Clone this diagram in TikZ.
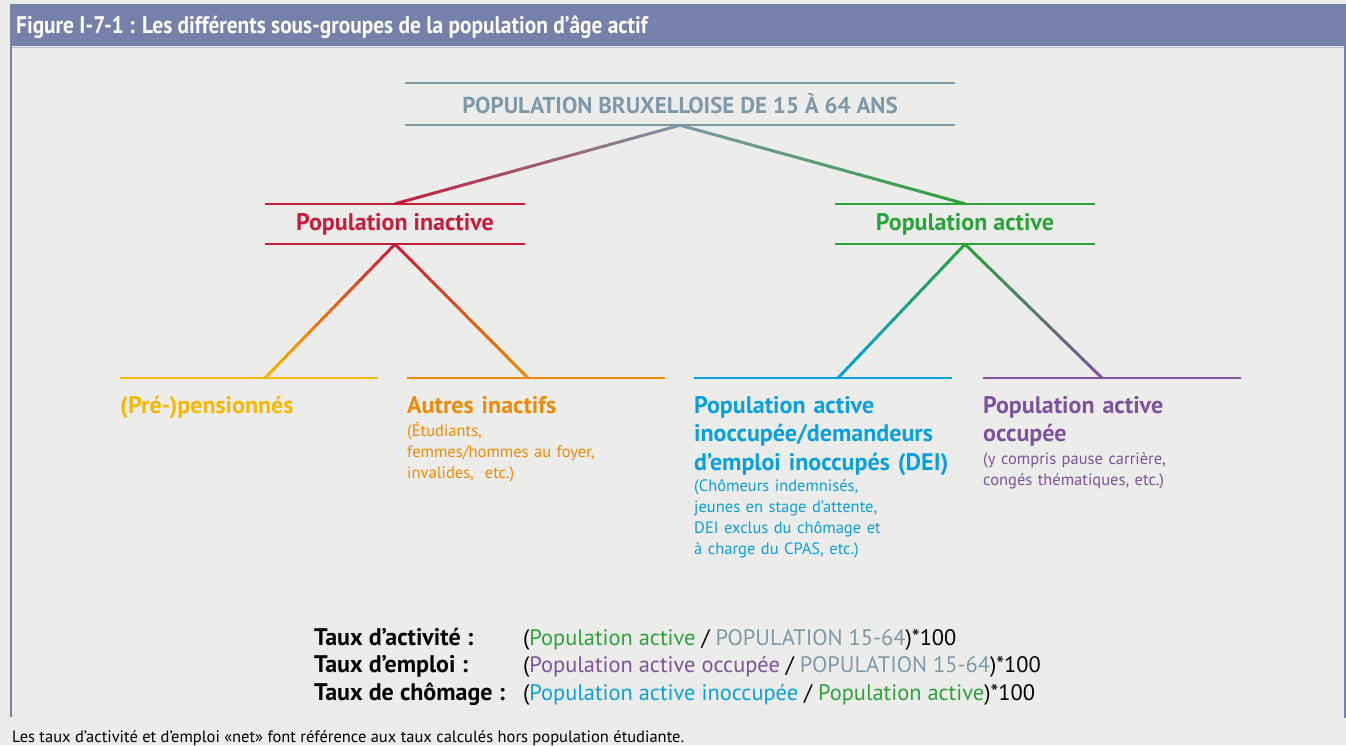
\documentclass[tikz,border=0pt]{standalone}
\usepackage{fontspec}
\setmainfont{PT Sans}
\newfontfamily\narrowfont[FakeStretch=0.89]{PT Sans}
\usepackage{xcolor}
\usetikzlibrary{calc,positioning}

\definecolor{bandblue}{HTML}{7681AB}
\definecolor{paper}{HTML}{ECEDEB}
\definecolor{popgray}{HTML}{7F99A9}
\definecolor{inactred}{HTML}{C51D3B}
\definecolor{actgreen}{HTML}{2CA23A}
\definecolor{pensyellow}{HTML}{F9B800}
\definecolor{autreorange}{HTML}{EE8A06}
\definecolor{inoccblue}{HTML}{0AA0DF}
\definecolor{occpurple}{HTML}{7D539D}

% line from #1 to #2, colour going from #3 to #4
\newcommand{\gradlink}[4]{%
  \foreach \i in {0,...,29}{%
    \pgfmathtruncatemacro{\nexti}{\i+1}%
    \pgfmathtruncatemacro{\mixp}{100-(\i+0.5)*100/30}%
    \draw[line width=3pt, line cap=round, color=#3!\mixp!#4] ($(#1)!\i/30!(#2)$) -- ($(#1)!\nexti/30!(#2)$);
  }}

\tikzset{
  toptitle/.style={font=\fontsize{23}{27}\selectfont\bfseries, text=popgray, inner sep=0pt},
  grouptitle/.style={font=\fontsize{24}{28}\selectfont\bfseries, inner sep=0pt},
  leafhead/.style={font=\fontsize{24}{28.5}\selectfont\bfseries, inner sep=0pt, anchor=base west, align=left, text width=280pt},
  leafnote/.style={font=\fontsize{16.5}{21}\selectfont, inner sep=0pt, anchor=base west, align=left, text width=280pt},
  leafline/.style={line width=2pt},
  tauxlabel/.style={font=\fontsize{24}{27}\selectfont\bfseries, inner sep=0pt, anchor=base west},
  tauxvalue/.style={font=\fontsize{22.4}{27}\selectfont, inner sep=0pt, anchor=base west},
}

\begin{document}
\begin{tikzpicture}[x=1pt, y=-1pt]
\useasboundingbox (0,0) rectangle (1346,745);
\fill[paper] (0,0) rectangle (1346,745);

% header band and frame
\fill[bandblue] (10,4) rectangle (1346,46);
\draw[bandblue!40!paper, line width=1pt] (12,47) -- (1344,47);
\draw[bandblue, line width=2pt] (11,46) -- (11,717);
\draw[bandblue, line width=2pt] (1345,46) -- (1345,718);
\node[anchor=base west, inner sep=0pt, text=white, font=\narrowfont\fontsize{24}{27}\selectfont\bfseries] (title) at (16,33) {Figure I-7-1 : Les différents sous-groupes de la population d’âge actif};

% top level
\node[toptitle, minimum width=550pt, minimum height=42pt] (pop) at (680,104) {POPULATION BRUXELLOISE DE 15 À 64 ANS};
\draw[popgray, line width=2.5pt] (pop.north west) -- (pop.north east) (pop.south west) -- (pop.south east);

% second level
\node[grouptitle, text=inactred, minimum width=260pt, minimum height=40pt] (inactive) at (395,224) {Population inactive};
\draw[inactred, line width=2.5pt] (inactive.north west) -- (inactive.north east) (inactive.south west) -- (inactive.south east);
\node[grouptitle, text=actgreen, minimum width=260pt, minimum height=40pt] (active) at (965,224) {Population active};
\draw[actgreen, line width=2.5pt] (active.north west) -- (active.north east) (active.south west) -- (active.south east);

\gradlink{pop.south}{inactive.north}{popgray}{inactred}
\gradlink{pop.south}{active.north}{popgray}{actgreen}

% third level
\coordinate (pens) at (265,378);
\coordinate (autres) at (528,378);
\coordinate (inocc) at (838,378);
\coordinate (occ) at (1102,378);
\draw[leafline, pensyellow] (120,378) -- (378,378);
\draw[leafline, autreorange] (407,378) -- (665,378);
\draw[leafline, inoccblue] (694,378) -- (952,378);
\draw[leafline, occpurple] (983,378) -- (1241,378);

\gradlink{inactive.south}{pens}{inactred}{pensyellow}
\gradlink{inactive.south}{autres}{inactred}{autreorange}
\gradlink{active.south}{inocc}{actgreen}{inoccblue}
\gradlink{active.south}{occ}{actgreen}{occpurple}

\node[leafhead, text=pensyellow] (penstxt) at (120,413) {(Pré-)pensionnés};
\node[leafhead, text=autreorange] (autrestxt) at (407,413) {Autres inactifs};
\node[leafnote, text=autreorange] (autresnote) at (407,436) {(Étudiants,\\femmes/hommes au foyer,\\invalides,~ etc.)};
\node[leafhead, text=inoccblue] (inocctxt) at (694,413) {Population active\\inoccupée/demandeurs\\d’emploi inoccupés (DEI)};
\node[leafnote, text=inoccblue] (inoccnote) at (694,491) {(Chômeurs indemnisés,\\jeunes en stage d’attente,\\DEI exclus du chômage et\\à charge du CPAS, etc.)};
\node[leafhead, text=occpurple] (occtxt) at (983,413) {Population active\\occupée};
\node[leafnote, text=occpurple] (occnote) at (983,464) {(y compris pause carrière,\\congés thématiques, etc.)};

% rates
\node[tauxlabel] (tact) at (314,645) {Taux d’activité :};
\node[tauxlabel] (temp) at (314,672) {Taux d’emploi :};
\node[tauxlabel] (tcho) at (314,700) {Taux de chômage :};
\node[tauxvalue] (vact) at (523,645) {(\textcolor{actgreen}{Population active} / \textcolor{popgray}{POPULATION 15-64})*100};
\node[tauxvalue] (vemp) at (523,672) {(\textcolor{occpurple}{Population active occupée} / \textcolor{popgray}{POPULATION 15-64})*100};
\node[tauxvalue] (vcho) at (523,700) {(\textcolor{inoccblue}{Population active inoccupée} / \textcolor{actgreen}{Population active})*100};

\node[anchor=base west, inner sep=0pt, font=\fontsize{16.5}{20}\selectfont] (note) at (12,742) {Les taux d’activité et d’emploi «net» font référence aux taux calculés hors population étudiante.};
\end{tikzpicture}
\end{document}
